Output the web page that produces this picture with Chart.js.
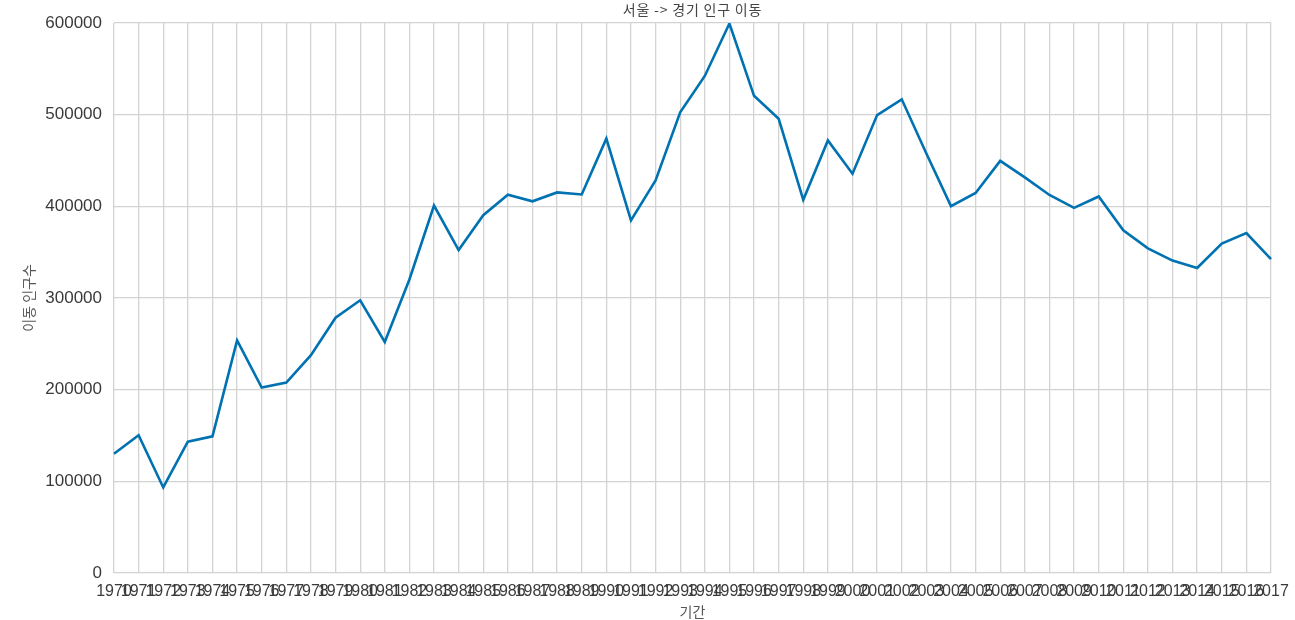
<!DOCTYPE html>
<html>
<head>
<meta charset="utf-8">
<script src="https://cdn.jsdelivr.net/npm/chart.js@4/dist/chart.umd.min.js"></script>
<style>
  html, body { margin: 0; padding: 0; background: #fff; }
  .chart-wrap { width: 1295px; height: 620px; position: relative; }
</style>
</head>
<body>
<div class="chart-wrap"><canvas id="chart"></canvas></div>
<script>
// 서울 -> 경기 인구 이동
const years = [
  '1970','1971','1972','1973','1974','1975','1976','1977','1978','1979',
  '1980','1981','1982','1983','1984','1985','1986','1987','1988','1989',
  '1990','1991','1992','1993','1994','1995','1996','1997','1998','1999',
  '2000','2001','2002','2003','2004','2005','2006','2007','2008','2009',
  '2010','2011','2012','2013','2014','2015','2016','2017'
];
const moves = [
  130149, 150313, 93333, 143234, 149045, 253705, 202276, 207722, 237684, 278411,
  297539, 252073, 320174, 400875, 352238, 390265, 412717, 405454, 415174, 412933,
  473889, 384714, 428344, 502584, 542204, 599411, 520566, 495454, 407050, 471841,
  435573, 499575, 516765, 457656, 400206, 414621, 449632, 431637, 412408, 398282,
  410735, 373771, 354135, 340801, 332785, 359337, 370760, 342433
];
const yTicks = [0, 100000, 200000, 300000, 400000, 500000, 600000];

const titleText = '서울 -> 경기 인구 이동';
const xTitle = '기간';
const yTitle = '이동 인구수';

const cjk = '"Noto Sans CJK KR", "Noto Sans", sans-serif';
const tickFont = { family: '"Liberation Sans", Arial, sans-serif', size: 16 };
const yTickFont = { family: '"Liberation Sans", Arial, sans-serif', size: 17 };

// title centred over the plot area, like matplotlib does
const plotTitle = {
  id: 'plotTitle',
  afterDraw(chart) {
    const { ctx, chartArea } = chart;
    ctx.save();
    ctx.font = '14px ' + cjk;
    ctx.letterSpacing = '0.8px';
    ctx.fillStyle = '#444';
    ctx.textAlign = 'center';
    ctx.textBaseline = 'middle';
    ctx.fillText(titleText, (chartArea.left + chartArea.right) / 2, 10);
    ctx.restore();
  }
};

new Chart(document.getElementById('chart'), {
  type: 'line',
  data: {
    labels: years,
    datasets: [{
      data: moves,
      borderColor: '#0072b2',
      borderWidth: 2.6,
      pointRadius: 0,
      tension: 0,
      fill: false,
    }]
  },
  options: {
    responsive: true,
    maintainAspectRatio: false,
    animation: false,
    layout: { padding: { top: 23, right: 24, left: 0, bottom: 0 } },
    plugins: { legend: { display: false }, tooltip: { enabled: false } },
    scales: {
      x: {
        offset: false,
        afterFit: axis => { axis.height = 47; axis.paddingRight = 0; axis.paddingLeft = 0; },
        grid: { color: '#d3d3d3', lineWidth: 1.3, drawTicks: false },
        border: { display: false },
        ticks: {
          autoSkip: false, maxRotation: 0, minRotation: 0,
          color: '#3a3a3a', font: tickFont, padding: 9
        },
        title: { display: true, text: xTitle, color: '#555', font: { family: cjk, size: 14 }, padding: { top: 1, bottom: 0 } }
      },
      y: {
        min: 0, max: 600000,
        afterBuildTicks: axis => { axis.ticks = yTicks.map(v => ({ value: v })); },
        afterFit: axis => { axis.width = 114; },
        grid: { color: '#d3d3d3', lineWidth: 1.3, drawTicks: false },
        border: { display: false },
        ticks: { color: '#3a3a3a', font: yTickFont, padding: 12, callback: v => String(v) },
        title: { display: true, text: yTitle, color: '#555', font: { family: cjk, size: 14 }, padding: { top: 20, bottom: 12 } }
      }
    }
  },
  plugins: [plotTitle]
});
</script>
</body>
</html>
